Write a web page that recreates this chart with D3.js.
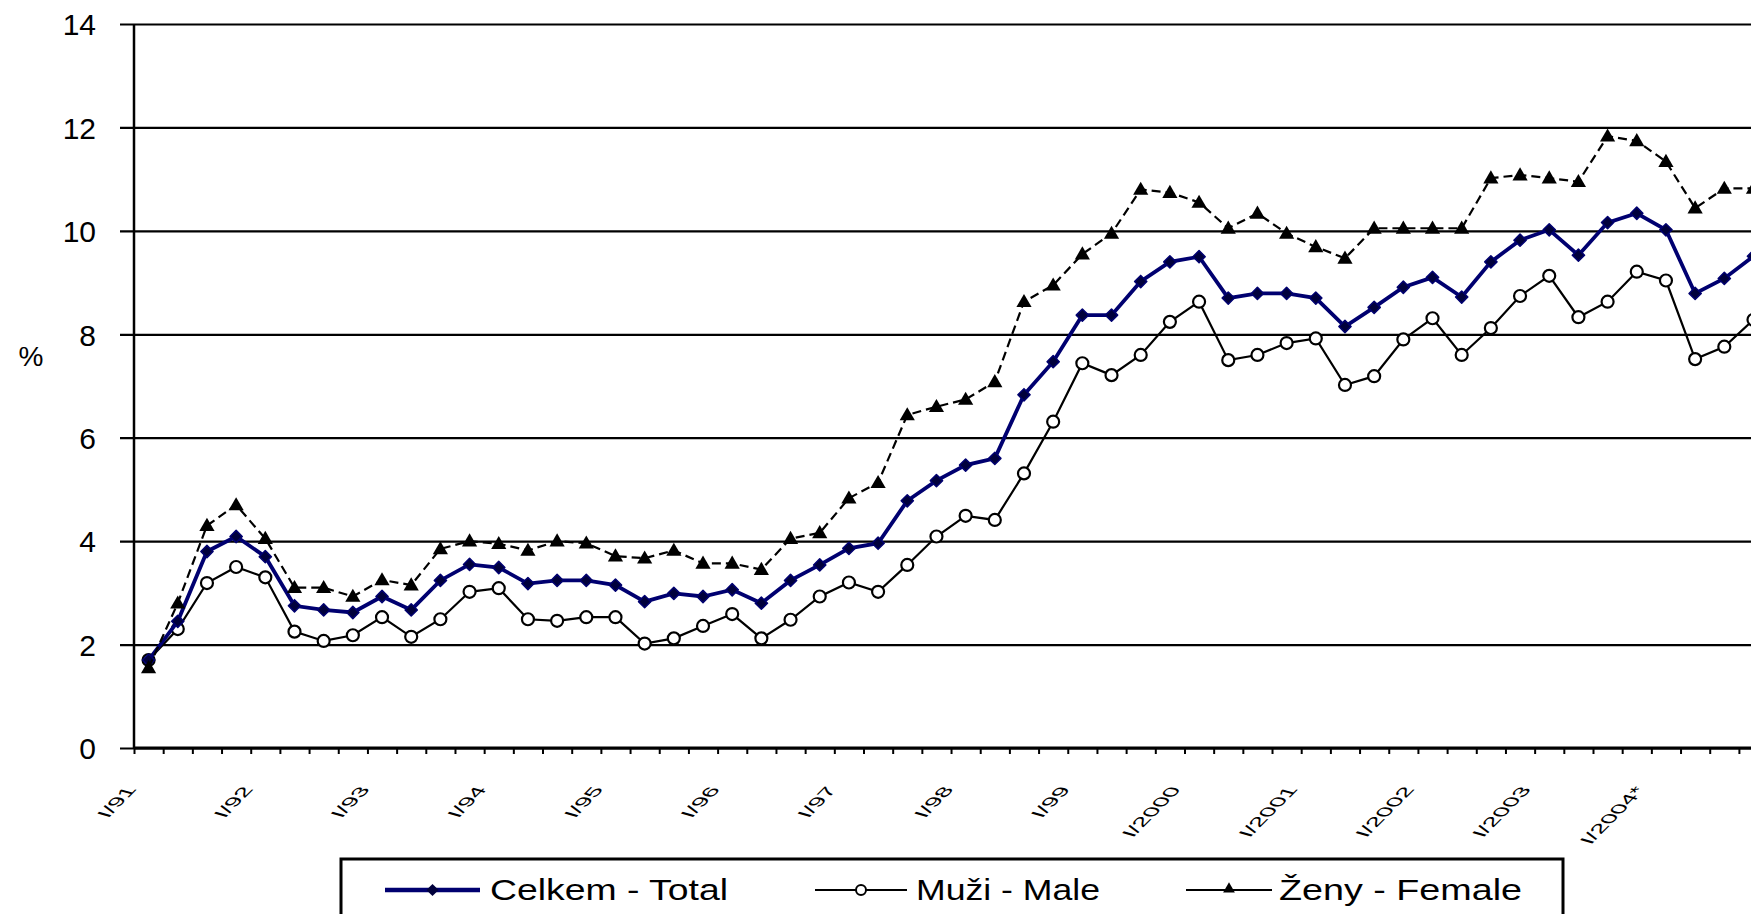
<!DOCTYPE html>
<html>
<head>
<meta charset="utf-8">
<script src="https://cdn.jsdelivr.net/npm/d3@7"></script>
<style>
  body { margin: 0; background: #fff; overflow: hidden; }
  text { font-family: "Liberation Sans", Arial, sans-serif; fill: #000; }
</style>
</head>
<body>
<div id="chart"></div>
<script>
// ctvrtletni mira nezamestnanosti, I/91 - IV/2004
const years = ["91", "92", "93", "94", "95", "96", "97", "98", "99", "2000", "2001", "2002", "2003", "2004"];
const quarters = ["I", "II", "III", "IV"];
const yearLabels = ["I/91", "I/92", "I/93", "I/94", "I/95", "I/96", "I/97", "I/98", "I/99",
  "I/2000", "I/2001", "I/2002", "I/2003", "I/2004*"];
const yTicks = [0, 2, 4, 6, 8, 10, 12, 14];

const total = [1.7, 2.45, 3.8, 4.09, 3.7, 2.75, 2.67, 2.62, 2.93, 2.67, 3.24, 3.55, 3.49, 3.18,
  3.24, 3.24, 3.15, 2.83, 2.99, 2.93, 3.06, 2.8, 3.24, 3.54, 3.86, 3.96, 4.78, 5.17,
  5.47, 5.6, 6.83, 7.47, 8.37, 8.37, 9.02, 9.4, 9.5, 8.7, 8.79, 8.79, 8.7, 8.15,
  8.52, 8.91, 9.1, 8.72, 9.4, 9.82, 10.02, 9.53, 10.16, 10.34, 10.02, 8.79, 9.08, 9.51];
const male = [1.7, 2.3, 3.19, 3.5, 3.3, 2.25, 2.07, 2.18, 2.53, 2.15, 2.49, 3.02, 3.09, 2.49,
  2.46, 2.53, 2.53, 2.02, 2.12, 2.36, 2.59, 2.12, 2.48, 2.93, 3.2, 3.02, 3.54, 4.09,
  4.49, 4.41, 5.31, 6.31, 7.44, 7.21, 7.6, 8.24, 8.63, 7.5, 7.6, 7.83, 7.92, 7.02,
  7.19, 7.9, 8.31, 7.6, 8.12, 8.74, 9.13, 8.33, 8.63, 9.21, 9.04, 7.52, 7.76, 8.28];
const female = [1.55, 2.8, 4.3, 4.7, 4.05, 3.1, 3.1, 2.93, 3.25, 3.15, 3.85, 4.0, 3.95, 3.82,
  4.0, 3.96, 3.71, 3.67, 3.82, 3.57, 3.57, 3.45, 4.05, 4.16, 4.83, 5.13, 6.44, 6.6,
  6.74, 7.08, 8.63, 8.95, 9.55, 9.95, 10.8, 10.74, 10.55, 10.05, 10.34, 9.95, 9.69, 9.47,
  10.05, 10.05, 10.05, 10.05, 11.02, 11.08, 11.02, 10.95, 11.83, 11.74, 11.34, 10.44, 10.82, 10.82];

const categories = [];
years.forEach(y => quarters.forEach(q => categories.push(q + "/" + y)));

const width = 1751, height = 914;
const plotLeft = 134, plotTop = 24, plotBottom = 748;
const step = 29.18;
const plotRight = plotLeft + categories.length * step;   // plocha presahuje pravy okraj obrazku

const svg = d3.select("#chart").append("svg")
  .attr("width", width)
  .attr("height", height);

const x = d3.scaleBand().domain(categories).range([plotLeft, plotRight]).padding(0);
const xEdge = d3.scaleLinear().domain([0, categories.length]).range([plotLeft, plotRight]);
const y = d3.scaleLinear().domain([0, 14]).range([plotBottom, plotTop]);
const cx = c => x(c) + x.bandwidth() / 2;

// mrizka + popisky osy y
const yAxis = svg.append("g")
  .attr("transform", "translate(" + plotLeft + ",0)")
  .call(d3.axisLeft(y).tickValues(yTicks).tickSize(14).tickPadding(24).tickFormat(d3.format("d")));
yAxis.select(".domain").remove();
yAxis.selectAll(".tick line")
  .attr("x1", -14).attr("x2", plotRight - plotLeft)
  .attr("stroke", "#000").attr("stroke-width", 2.2);
yAxis.selectAll(".tick text")
  .attr("font-size", 30)
  .attr("dy", "0.36em");

// osa y
svg.append("line")
  .attr("x1", plotLeft).attr("x2", plotLeft)
  .attr("y1", plotTop).attr("y2", plotBottom)
  .attr("stroke", "#000").attr("stroke-width", 2.5);

// osa x s carkami mezi kategoriemi
const xAxis = svg.append("g")
  .attr("transform", "translate(0," + plotBottom + ")")
  .call(d3.axisBottom(xEdge).tickValues(d3.range(0, categories.length + 1)).tickSize(6).tickFormat(""));
xAxis.select(".domain").attr("stroke-width", 3).attr("d", "M" + plotLeft + ",0H" + plotRight);
xAxis.selectAll(".tick line").attr("stroke", "#000").attr("stroke-width", 2);

// popisky kategorii (sikme, zkosene jako v puvodnim obrazku)
const stretch = 1.56;
svg.append("g").selectAll("text")
  .data(yearLabels)
  .enter()
  .append("text")
  .attr("text-anchor", "end")
  .attr("font-size", 16)
  .text(d => d)
  .attr("transform", function(d, i) {
    const len = this.getComputedTextLength() * stretch;
    const px = cx(categories[i * 4]) - 2 - 0.22 * len;
    return "translate(" + px + ",789) rotate(-45) scale(" + stretch + ",1) skewX(20)";
  });

// "%"
svg.append("text")
  .attr("x", 31).attr("y", 366)
  .attr("text-anchor", "middle")
  .attr("font-size", 28)
  .text("%");

const line = d3.line()
  .x((d, i) => cx(categories[i]))
  .y(d => y(d));

const plot = svg.append("g");

// muzi
plot.append("path")
  .datum(male)
  .attr("d", line)
  .attr("fill", "none")
  .attr("stroke", "#000")
  .attr("stroke-width", 2.2);
plot.append("g").selectAll("circle")
  .data(male)
  .enter()
  .append("circle")
  .attr("cx", (d, i) => cx(categories[i]))
  .attr("cy", d => y(d))
  .attr("r", 6)
  .attr("fill", "#fff")
  .attr("stroke", "#000")
  .attr("stroke-width", 2.2);

// celkem
const navy = "#000070";
plot.append("path")
  .datum(total)
  .attr("d", line)
  .attr("fill", "none")
  .attr("stroke", navy)
  .attr("stroke-width", 3.8);
const diamond = d3.symbol().type(d3.symbolSquare).size(75);
plot.append("g").selectAll("path")
  .data(total)
  .enter()
  .append("path")
  .attr("d", diamond)
  .attr("transform", (d, i) => "translate(" + cx(categories[i]) + "," + y(d) + ") rotate(45)")
  .attr("fill", "#00003c")
  .attr("stroke", navy)
  .attr("stroke-width", 1.5)
  .attr("stroke-linejoin", "round");

// zeny
plot.append("path")
  .datum(female)
  .attr("d", line)
  .attr("fill", "none")
  .attr("stroke", "#000")
  .attr("stroke-width", 2.2)
  .attr("stroke-dasharray", "9,5");
const tri = d3.symbol().type(d3.symbolTriangle).size(100);
plot.append("g").selectAll("path")
  .data(female)
  .enter()
  .append("path")
  .attr("d", tri)
  .attr("transform", (d, i) => "translate(" + cx(categories[i]) + "," + (y(d) + 1) + ")")
  .attr("fill", "#000");

// legenda
const lg = svg.append("g");
lg.append("rect")
  .attr("x", 341).attr("y", 859)
  .attr("width", 1563 - 341).attr("height", 120)
  .attr("fill", "#fff")
  .attr("stroke", "#000")
  .attr("stroke-width", 3);

const legendItems = [
  { name: "Celkem - Total", x1: 385, x2: 480, tx: 490, tw: 238 },
  { name: "Muži - Male", x1: 815, x2: 907, tx: 916, tw: 184 },
  { name: "Ženy - Female", x1: 1186, x2: 1272, tx: 1279, tw: 243 }
];
const ly = 890;

lg.append("line").attr("x1", legendItems[0].x1).attr("x2", legendItems[0].x2)
  .attr("y1", ly).attr("y2", ly).attr("stroke", navy).attr("stroke-width", 4.5);
lg.append("path").attr("d", diamond)
  .attr("transform", "translate(" + (legendItems[0].x1 + legendItems[0].x2) / 2 + "," + ly + ") rotate(45)")
  .attr("fill", "#00003c");

lg.append("line").attr("x1", legendItems[1].x1).attr("x2", legendItems[1].x2)
  .attr("y1", ly).attr("y2", ly).attr("stroke", "#000").attr("stroke-width", 2.2);
lg.append("circle").attr("cx", (legendItems[1].x1 + legendItems[1].x2) / 2).attr("cy", ly)
  .attr("r", 5).attr("fill", "#fff").attr("stroke", "#000").attr("stroke-width", 2);

lg.append("line").attr("x1", legendItems[2].x1).attr("x2", legendItems[2].x2)
  .attr("y1", ly).attr("y2", ly).attr("stroke", "#000").attr("stroke-width", 2.2);
lg.append("path").attr("d", d3.symbol().type(d3.symbolTriangle).size(60))
  .attr("transform", "translate(" + (legendItems[2].x1 + legendItems[2].x2) / 2 + "," + (ly - 1) + ")")
  .attr("fill", "#000");

lg.selectAll("text.leg")
  .data(legendItems)
  .enter()
  .append("text")
  .attr("class", "leg")
  .attr("x", d => d.tx)
  .attr("y", 900)
  .attr("font-size", 29)
  .attr("textLength", d => d.tw)
  .attr("lengthAdjust", "spacingAndGlyphs")
  .text(d => d.name);
</script>
</body>
</html>
